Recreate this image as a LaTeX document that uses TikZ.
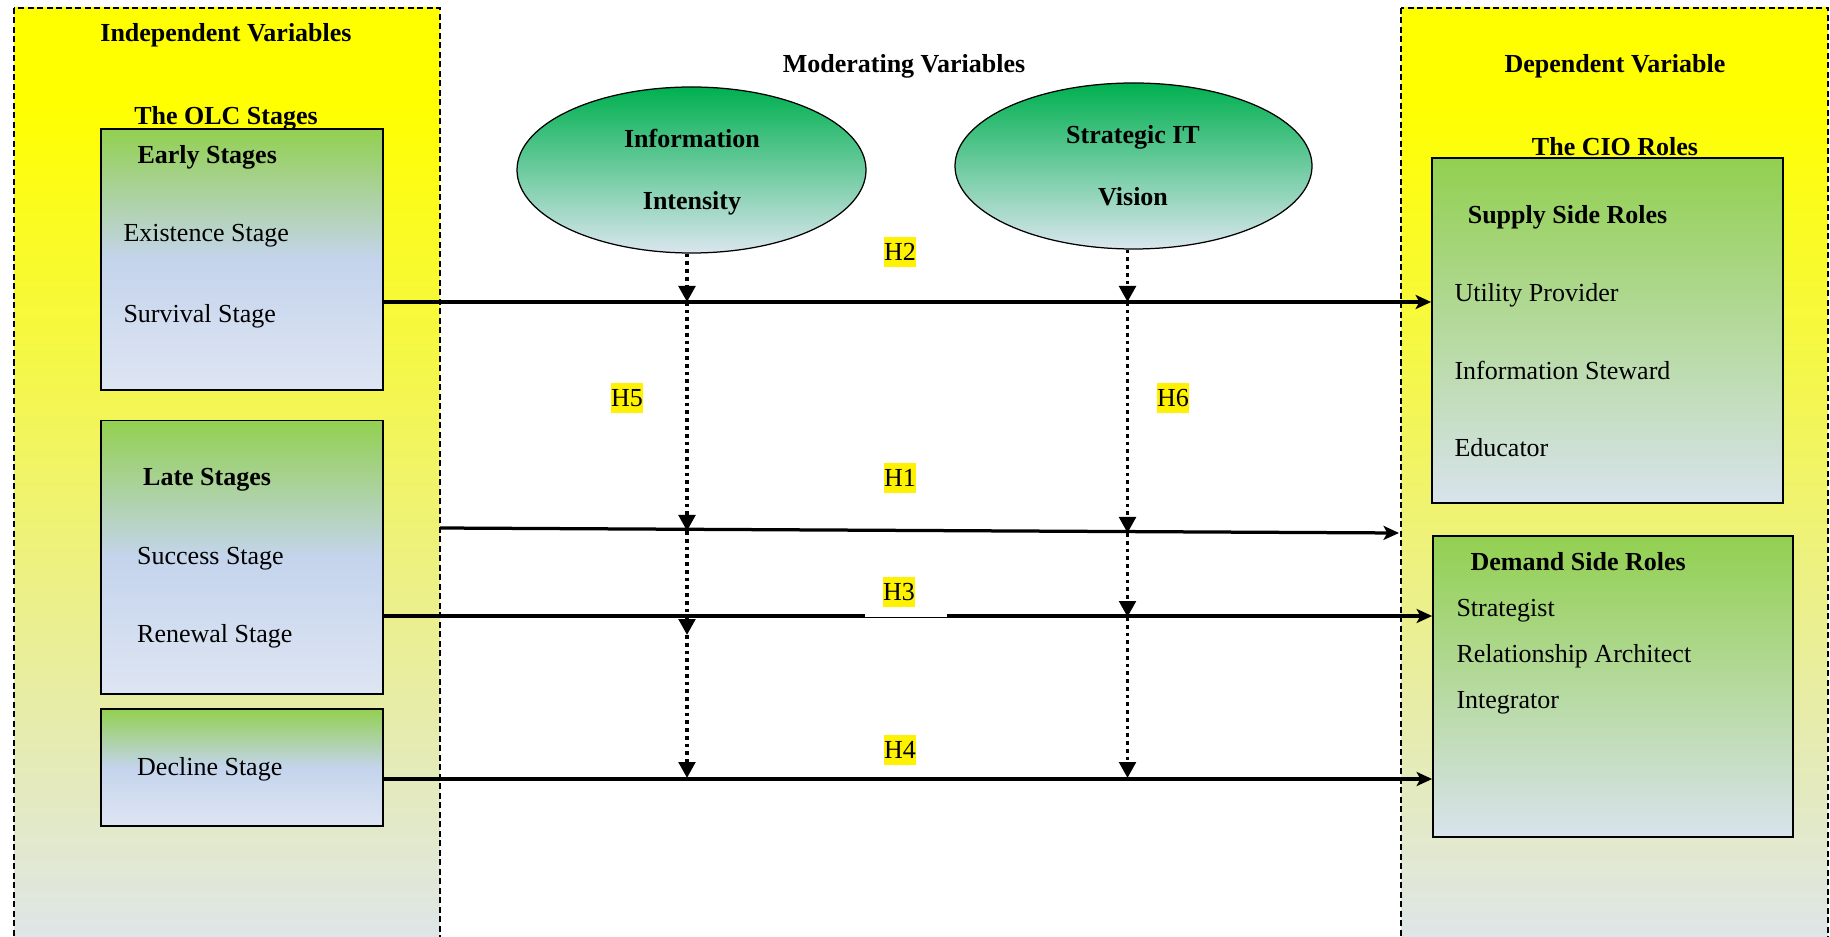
\documentclass[tikz,border=0pt]{standalone}
\usepackage{fontspec}
\setmainfont{Liberation Serif}
\usetikzlibrary{arrows.meta,shapes.geometric}

% colours
\definecolor{panelyel}{RGB}{255,255,0}
\definecolor{panelbot}{RGB}{221,229,238}
\definecolor{leafgreen}{RGB}{146,208,80}
\definecolor{stagemid}{RGB}{196,212,236}
\definecolor{stagelow}{RGB}{222,229,243}
\definecolor{rolelow}{RGB}{216,227,236}
\definecolor{modtop}{RGB}{0,176,80}
\definecolor{modlow}{RGB}{218,230,238}

% vertical shadings (top of the shape = 75bp, bottom = 25bp)
\pgfdeclareverticalshading{panelshade}{100bp}{color(0bp)=(panelbot); color(25bp)=(panelbot); color(70bp)=(panelyel); color(100bp)=(panelyel)}
\pgfdeclareverticalshading{stageshade}{100bp}{color(0bp)=(stagelow); color(25bp)=(stagelow); color(50bp)=(stagemid); color(75bp)=(leafgreen); color(100bp)=(leafgreen)}
\pgfdeclareverticalshading{roleshade}{100bp}{color(0bp)=(rolelow); color(25bp)=(rolelow); color(75bp)=(leafgreen); color(100bp)=(leafgreen)}
\pgfdeclareverticalshading{modshade}{100bp}{color(0bp)=(modlow); color(25bp)=(modlow); color(75bp)=(modtop); color(100bp)=(modtop)}

\begin{document}
\begin{tikzpicture}[x=0.4pt, y=-0.4pt,
  font=\fontsize{10.4pt}{12pt}\selectfont,
  panel/.style={draw, line width=0.45pt, dash pattern=on 2.4pt off 1.4pt, shading=panelshade},
  stagebox/.style={draw, line width=0.7pt, shading=stageshade, inner sep=0pt, minimum width=112.8pt},
  rolebox/.style={draw, line width=0.7pt, shading=roleshade, inner sep=0pt},
  moderator/.style={ellipse, draw, line width=0.5pt, shading=modshade, inner sep=0pt, minimum height=66.4pt},
  heading/.style={anchor=base, inner sep=0pt, font=\fontsize{10.4pt}{12pt}\selectfont\bfseries},
  subhead/.style={anchor=base west, inner sep=0pt, font=\fontsize{10.4pt}{12pt}\selectfont\bfseries},
  item/.style={anchor=base west, inner sep=0pt},
  hyp/.style={fill=yellow, inner xsep=0pt, inner ysep=0pt, minimum height=12pt, minimum width=11.6pt},
  mainarrow/.style={line width=1.3pt, -{Stealth[length=6.2pt, width=5.6pt, inset=1.5pt]}},
  modarrow/.style={line width=1.5pt, dash pattern=on 1.5pt off 1.6pt, -{Triangle[length=6.4pt, width=6.6pt]}}
]
% page
\fill[white] (0,0) rectangle (1830,937);
\useasboundingbox (0,0) rectangle (1830,937);

% variable panels
\path[panel] (14,8) rectangle (440,960);
\path[panel] (1401,8) rectangle (1828,960);

% panel titles
\node[heading] (indep) at (226,41.5) {Independent Variables};
\node[heading] (olc) at (226,124.5) {The OLC Stages};
\node[heading] (moder) at (904,73) {Moderating Variables};
\node[heading] (dep) at (1615,73) {Dependent Variable};
\node[heading] (cio) at (1615,155.5) {The CIO Roles};

% OLC stage boxes
\node[stagebox, minimum height=104.4pt] (early) at (242,259.5) {};
\node[stagebox, minimum height=109.4pt] (late) at (242,557.25) {};
\node[stagebox, minimum height=46.8pt] (decline) at (242,767.5) {};

\node[subhead] (earlyt) at (137,164) {Early Stages};
\node[item] (exist) at (123,242) {Existence Stage};
\node[item] (surv) at (123,323) {Survival Stage};
\node[subhead] (latet) at (142.7,486) {Late Stages};
\node[item] (succ) at (136.7,564) {Success Stage};
\node[item] (renew) at (136.7,642) {Renewal Stage};
\node[item] (declt) at (136.7,775.5) {Decline Stage};

% CIO role boxes
\node[rolebox, minimum width=140.4pt, minimum height=138pt] (supply) at (1607.5,330.5) {};
\node[rolebox, minimum width=144pt, minimum height=120.4pt] (demand) at (1613,686.5) {};

\node[subhead] (supt) at (1467.3,224) {Supply Side Roles};
\node[item] (util) at (1454,301.5) {Utility Provider};
\node[item] (stew) at (1454,380) {Information Steward};
\node[item] (edu) at (1454,457) {Educator};
\node[subhead] (demt) at (1470,570) {Demand Side Roles};
\node[item] (strat) at (1456,616) {Strategist};
\node[item] (rel) at (1456,662) {Relationship Architect};
\node[item] (integ) at (1456,708) {Integrator};

% moderators
\node[moderator, minimum width=139.6pt] (info) at (691.5,170) {};
\node[moderator, minimum width=142.8pt] (vis) at (1133.5,166) {};
\node[heading] (infot1) at (692,148) {Information};
\node[heading] (infot2) at (692,210) {Intensity};
\node[heading] (vist1) at (1133,144) {Strategic IT};
\node[heading] (vist2) at (1133,205.7) {Vision};

% direct effects
\coordinate (h1s) at (440,528);
\coordinate (h1e) at (1399,533);
\draw[mainarrow] (early.east |- 0,302) -- (supply.west |- 0,302);
\draw[mainarrow] (h1s) -- (h1e);
\draw[mainarrow] (late.east |- 0,616) -- (demand.west |- 0,616);
\draw[mainarrow] (decline.east |- 0,779) -- (demand.west |- 0,779);
\fill[white] (865,614.2) rectangle (947,617.1);

% moderating effects
\coordinate (a1) at (687,302);
\coordinate (a2) at (687,531);
\coordinate (a3) at (687,635);
\coordinate (a4) at (687,778);
\coordinate (b1) at (1127.5,302);
\coordinate (b2) at (1127.5,533);
\coordinate (b3) at (1127.5,617);
\coordinate (b4) at (1127.5,778);
\draw[modarrow] (info.south -| a1) -- (a1);
\draw[modarrow] (a1) -- (a2);
\draw[modarrow] (a2) -- (a3);
\draw[modarrow] (a3) -- (a4);
\draw[modarrow] (vis.south -| b1) -- (b1);
\draw[modarrow] (b1) -- (b2);
\draw[modarrow] (b2) -- (b3);
\draw[modarrow] (b3) -- (b4);

% hypotheses
\node[hyp] (H2) at (900,252) {H2};
\node[hyp] (H1) at (900,478) {H1};
\node[hyp] (H3) at (899,592) {H3};
\node[hyp] (H4) at (900,750) {H4};
\node[hyp] (H5) at (627,398) {H5};
\node[hyp] (H6) at (1173,398) {H6};
\end{tikzpicture}
\end{document}
